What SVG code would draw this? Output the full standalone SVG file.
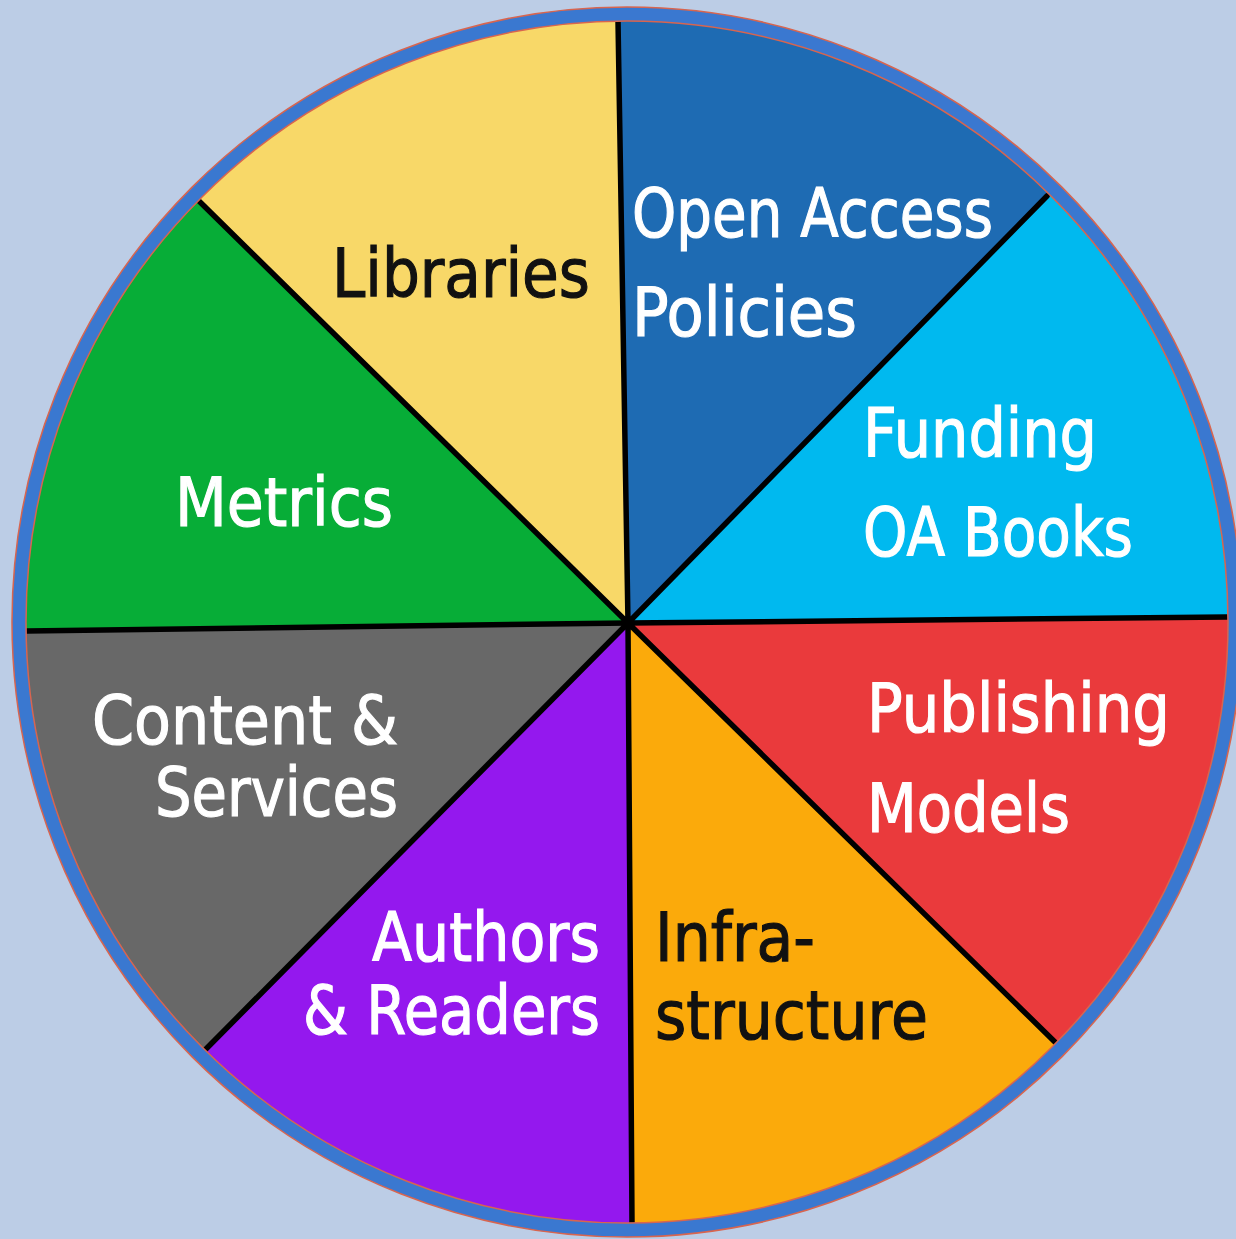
<svg xmlns="http://www.w3.org/2000/svg" width="1236" height="1239" viewBox="0 0 1236 1239">
  <style>
    .lbl { font-family: "DejaVu Sans", "Liberation Sans", sans-serif; font-size: 67px; stroke-width: 1.2; }
    .w { fill: #ffffff; stroke: #ffffff; }
    .k { fill: #111111; stroke: #111111; }
    .div { stroke: #000000; stroke-width: 5.5; stroke-linecap: round; fill: none; }
  </style>
  <defs>
    <clipPath id="disc">
      <circle cx="627" cy="622" r="602"/>
    </clipPath>
  </defs>
  <rect x="0" y="0" width="1236" height="1239" fill="#bccde6"/>

  <g clip-path="url(#disc)">
    <g id="libraries">
      <polygon points="628,623 70,74 615,-160" fill="#f8d868"/>
    </g>
    <g id="open-access-policies">
      <polygon points="628,623 615,-160 1173,68" fill="#1e6bb3"/>
    </g>
    <g id="funding-oa-books">
      <polygon points="628,623 1173,68 1407,615" fill="#00b9ef"/>
    </g>
    <g id="publishing-models">
      <polygon points="628,623 1407,615 1187,1172" fill="#ea3a3c"/>
    </g>
    <g id="infrastructure">
      <polygon points="628,623 1187,1172 633,1403" fill="#fbaa0b"/>
    </g>
    <g id="authors-readers">
      <polygon points="628,623 633,1403 78,1178" fill="#9418ee"/>
    </g>
    <g id="content-services">
      <polygon points="628,623 78,1178 -153,633" fill="#686868"/>
    </g>
    <g id="metrics">
      <polygon points="628,623 -153,633 70,74" fill="#07ad37"/>
    </g>
  </g>

  <g id="dividers">
    <line class="div" x1="628" y1="623" x2="618" y2="21"/>
    <line class="div" x1="628" y1="623" x2="1047" y2="196"/>
    <line class="div" x1="628" y1="623" x2="1227" y2="617"/>
    <line class="div" x1="628" y1="623" x2="1058" y2="1045"/>
    <line class="div" x1="628" y1="623" x2="632" y2="1223"/>
    <line class="div" x1="628" y1="623" x2="205" y2="1050"/>
    <line class="div" x1="628" y1="623" x2="27" y2="631"/>
    <line class="div" x1="628" y1="623" x2="199" y2="201"/>
    <circle cx="628" cy="623" r="7" fill="#000000"/>
  </g>

  <g id="rim">
    <circle cx="627" cy="622" r="608" fill="none" stroke="#3a78d0" stroke-width="14"/>
    <circle cx="627" cy="622" r="601" fill="none" stroke="#d8654f" stroke-width="1.5"/>
    <circle cx="627" cy="622" r="615" fill="none" stroke="#d8654f" stroke-width="1.5"/>
  </g>

  <g id="labels">
    <text class="lbl k" x="332" y="297" textLength="258" lengthAdjust="spacingAndGlyphs">Libraries</text>
    <text class="lbl w" x="632" y="237" textLength="361" lengthAdjust="spacingAndGlyphs">Open Access</text>
    <text class="lbl w" x="632" y="336" textLength="225" lengthAdjust="spacingAndGlyphs">Policies</text>
    <text class="lbl w" x="863" y="457" textLength="234" lengthAdjust="spacingAndGlyphs">Funding</text>
    <text class="lbl w" x="863" y="556" textLength="270" lengthAdjust="spacingAndGlyphs">OA Books</text>
    <text class="lbl w" x="867" y="732" textLength="303" lengthAdjust="spacingAndGlyphs">Publishing</text>
    <text class="lbl w" x="867" y="832" textLength="203" lengthAdjust="spacingAndGlyphs">Models</text>
    <text class="lbl k" x="655" y="961" textLength="160" lengthAdjust="spacingAndGlyphs">Infra-</text>
    <text class="lbl k" x="655" y="1039" textLength="273" lengthAdjust="spacingAndGlyphs">structure</text>
    <text class="lbl w" x="372" y="961" textLength="228" lengthAdjust="spacingAndGlyphs">Authors</text>
    <text class="lbl w" x="303" y="1034" textLength="297" lengthAdjust="spacingAndGlyphs">&amp; Readers</text>
    <text class="lbl w" x="92" y="744" textLength="306" lengthAdjust="spacingAndGlyphs">Content &amp;</text>
    <text class="lbl w" x="155" y="816" textLength="243" lengthAdjust="spacingAndGlyphs">Services</text>
    <text class="lbl w" x="175" y="526" textLength="218" lengthAdjust="spacingAndGlyphs">Metrics</text>
  </g>
</svg>
